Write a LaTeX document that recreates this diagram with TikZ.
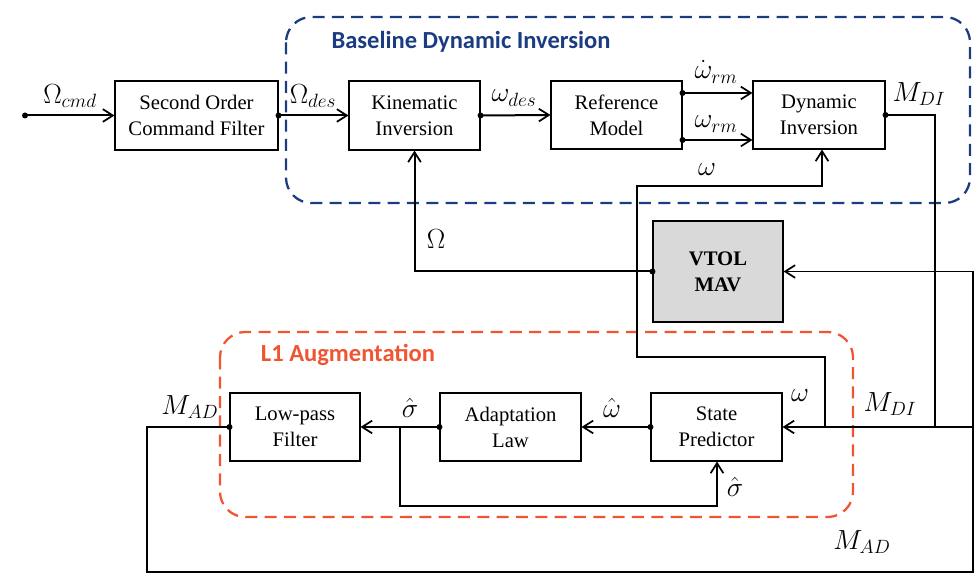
\documentclass[tikz,border=0pt]{standalone}
\usepackage{fontspec}
\setmainfont{Liberation Serif}
\newfontfamily\titlefont{Carlito}
\usetikzlibrary{arrows.meta}
\definecolor{bdblue}{RGB}{28,60,130}
\definecolor{lored}{RGB}{240,85,50}
\definecolor{vgray}{RGB}{217,217,217}
\begin{document}
\begin{tikzpicture}[x=0.75pt,y=-0.75pt,
  blk/.style={draw,line width=0.8pt,fill=white,align=center,font=\fontsize{15.5}{19.5}\selectfont,inner sep=0pt},
  arr/.style={line width=1.5pt,-{Straight Barb[length=7.5pt,width=9.5pt,line width=1.3pt]}},
  ln/.style={line width=1.5pt},
  dotc/.style={circle,fill=black,inner sep=0pt,minimum size=4.5pt},
  lab/.style={font=\fontsize{20}{24}\selectfont,inner sep=0pt},
  grp/.style={dash pattern=on 9pt off 5.5pt,line width=1.7pt,rounded corners=19pt}]
\useasboundingbox (0,0) rectangle (975,577);
% group frames
\draw[grp,bdblue] (286,17) rectangle (970,203);
\draw[grp,lored] (220,332) rectangle (853,517);
\node[bdblue,font=\titlefont\bfseries\fontsize{18.4}{22}\selectfont] (tBDI) at (471,42) {Baseline Dynamic Inversion};
\node[lored,font=\titlefont\bfseries\fontsize{18.4}{22}\selectfont] (tL1) at (348,355) {L1 Augmentation};
% blocks
\node[blk,minimum width=122.25pt,minimum height=51.75pt] (cf) at (196.5,115.5) {Second Order\\Command Filter};
\node[blk,minimum width=98.25pt,minimum height=51.75pt] (ki) at (414.5,115.5) {Kinematic\\Inversion};
\node[blk,minimum width=98.25pt,minimum height=51pt] (rm) at (616.5,115) {Reference\\Model};
\node[blk,minimum width=99pt,minimum height=51pt] (di) at (819,115) {Dynamic\\Inversion};
\node[blk,fill=vgray,font=\fontsize{15.5}{19.5}\selectfont\bfseries,minimum width=97.5pt,minimum height=75.75pt] (vt) at (718,271.5) {VTOL\\MAV};
\node[blk,minimum width=97.5pt,minimum height=51pt] (lp) at (295,427) {Low-pass\\Filter};
\node[blk,minimum width=105.75pt,minimum height=51pt] (al) at (510.5,427) {Adaptation\\Law};
\node[blk,minimum width=98.25pt,minimum height=51pt] (sp) at (716.5,427) {State\\Predictor};
% coordinates
\coordinate (in) at (25,115.5);
\coordinate (mdiA) at (935,115);
\coordinate (mdiB) at (935,427);
\coordinate (sumR) at (973,427);
\coordinate (sumT) at (973,271.5);
\coordinate (sumB) at (973,572);
\coordinate (madL) at (147,427);
\coordinate (madB) at (147,572);
\coordinate (wA) at (825,427);
\coordinate (wB) at (825,357);
\coordinate (wC) at (637,357);
\coordinate (wD) at (637,186);
\coordinate (wE) at (822,186);
\coordinate (sgA) at (400,427);
\coordinate (sgB) at (400,506);
\coordinate (sgC) at (717,506);
% top chain
\draw[arr] (in) -- (cf.west);
\node[dotc] (d0) at (in) {};
\draw[arr] (cf.east) -- (ki.west);
\node[dotc] (d1) at (cf.east) {};
\draw[arr] (ki.east) -- (rm.west);
\node[dotc] (d2) at (ki.east) {};
\draw[arr] (rm.east |- 0,93) -- (di.west |- 0,93);
\node[dotc] (d3) at (rm.east |- 0,93) {};
\draw[arr] (rm.east |- 0,140) -- (di.west |- 0,140);
\node[dotc] (d4) at (rm.east |- 0,140) {};
\draw[ln] (di.east) -- (mdiA) -- (mdiB);
\node[dotc] (d5) at (di.east) {};
% plant feedback
\draw[arr] (vt.west) -| (ki.south);
\node[dotc] (d6) at (vt.west) {};
\draw[arr] (wA) -- (wB) -- (wC) -- (wD) -- (wE) -- (di.south -| wE);
% total moment into plant and predictor
\draw[arr,line width=1.2pt] (sumR) -- (sp.east);
\draw[ln] (lp.west) -- (madL) -- (madB) -- (sumB) -- (sumT);
\draw[arr,line width=1.2pt] (sumT) -- (vt.east);
\node[dotc] (d7) at (lp.west) {};
% L1 chain
\draw[arr] (al.west) -- (lp.east);
\node[dotc] (d8) at (al.west) {};
\draw[arr] (sgA) -- (sgB) -- (sgC) -- (sp.south -| sgC);
\draw[arr] (sp.west) -- (al.east);
\node[dotc] (d9) at (sp.west) {};
% labels
\node[lab] (l1) at (70,96) {$\Omega_{cmd}$};
\node[lab] (l2) at (313,96) {$\Omega_{des}$};
\node[lab] (l3) at (514,98) {$\omega_{des}$};
\node[lab] (l4) at (716,72) {$\dot\omega_{rm}$};
\node[lab] (l5) at (716,124) {$\omega_{rm}$};
\node[lab] (l6) at (919,94) {$M_{DI}$};
\node[lab] (l7) at (707,170) {$\omega$};
\node[lab] (l8) at (436,239) {$\Omega$};
\node[lab] (l9) at (800,396) {$\omega$};
\node[lab] (l10) at (890,404) {$M_{DI}$};
\node[lab] (l11) at (862,542) {$M_{AD}$};
\node[lab] (l12) at (190,407) {$M_{AD}$};
\node[lab] (l13) at (410,408) {$\hat\sigma$};
\node[lab] (l14) at (612,408) {$\hat\omega$};
\node[lab] (l15) at (735,487) {$\hat\sigma$};
\end{tikzpicture}
\end{document}
